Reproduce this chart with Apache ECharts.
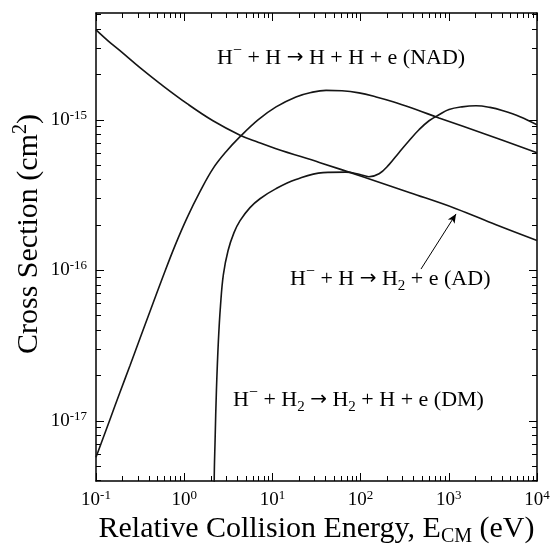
<!DOCTYPE html>
<html>
<head>
<meta charset="utf-8">
<script src="https://cdn.jsdelivr.net/npm/echarts@6/dist/echarts.min.js"></script>
<style>
  html, body { margin: 0; padding: 0; background: #fff; }
  #chart { width: 552px; height: 548px; }
</style>
</head>
<body>
<div id="chart"></div>
<script>
// cross sections (energy in eV, sigma in cm^2)
const energyNAD = [0.1, 0.144, 0.187, 0.243, 0.315, 0.409, 0.575, 0.787, 1.08, 1.51, 2.12, 2.98, 4.3, 6.87, 11.0, 18.5, 27.4, 40.6, 61.5, 95.9, 150, 233, 425, 774, 2710, 10000];
const sigmaNAD = [5.73e-18, 1.02e-17, 1.55e-17, 2.33e-17, 3.52e-17, 5.33e-17, 9.1e-17, 1.46e-16, 2.24e-16, 3.33e-16, 4.74e-16, 6.14e-16, 7.73e-16, 1.0e-15, 1.22e-15, 1.42e-15, 1.52e-15, 1.57e-15, 1.56e-15, 1.51e-15, 1.42e-15, 1.32e-15, 1.17e-15, 1.03e-15, 7.96e-16, 6.05e-16];

const energyAD = [0.1, 0.137, 0.187, 0.315, 0.532, 1.08, 2.12, 4.3, 6.87, 11.0, 34.7, 106, 363, 1208, 3430, 10000];
const sigmaAD = [3.96e-15, 3.35e-15, 2.88e-15, 2.22e-15, 1.74e-15, 1.28e-15, 9.86e-16, 7.91e-16, 7.1e-16, 6.43e-16, 5.19e-16, 4.19e-16, 3.28e-16, 2.57e-16, 2.01e-16, 1.58e-16];

const energyDM = [2.18, 2.19, 2.24, 2.32, 2.44, 2.58, 2.78, 3.14, 3.67, 4.3, 5.57, 7.23, 11.0, 18.5, 37.5, 68.2, 98.4, 124, 162, 210, 272, 354, 459, 597, 774, 1005, 1410, 2030, 2930, 4120, 6420, 10000];
const sigmaDM = [1e-18, 3.97e-18, 7.43e-18, 1.6e-17, 3.37e-17, 5.83e-17, 9.37e-17, 1.35e-16, 1.78e-16, 2.14e-16, 2.61e-16, 2.99e-16, 3.49e-16, 4.01e-16, 4.46e-16, 4.49e-16, 4.33e-16, 4.19e-16, 4.38e-16, 5.04e-16, 6.05e-16, 7.26e-16, 8.59e-16, 9.86e-16, 1.08e-15, 1.17e-15, 1.22e-15, 1.24e-15, 1.21e-15, 1.15e-15, 1.05e-15, 9.27e-16];

// arrow pointing at the AD curve: [energy, sigma]
const arrowFrom = [484, 1.02e-16];
const arrowTo = [1208, 2.37e-16];

// axis decades (log10)
const xDecades = [-1, 0, 1, 2, 3, 4];
const yDecades = [-17, -16, -15];
const xRange = [-1, 4];
const yRange = [-17.4, -14.29];

const FONT = 'Liberation Serif';

function toLog(es, ss) {
  return es.map((e, i) => [Math.log10(e), Math.log10(ss[i])]);
}

function minorTicks(from, to, range) {
  let out = [];
  for (let d = from; d <= to; d++) {
    for (let k = 2; k <= 9; k++) {
      const v = d + Math.log10(k);
      if (v > range[0] && v < range[1]) out.push(v);
    }
  }
  return out;
}

const xMinor = minorTicks(-1, 3, xRange);
const yMinor = minorTicks(-18, -15, yRange);

const frame = { show: true, onZero: false, lineStyle: { color: '#000', width: 1.5 } };
const tickStyle = { color: '#000', width: 1 };

const labelRich = {
  b: { fontFamily: FONT, fontSize: 19, lineHeight: 22, color: '#000' },
  s: { fontFamily: FONT, fontSize: 13, verticalAlign: 'top', color: '#000' },
};
const powLabel = (v) => '{b|10}{s|' + Math.round(v) + '}';

function axis(dim, pos, majorTicks, minor, withLabels) {
  const range = dim === 'x' ? xRange : yRange;
  return {
    type: 'value',
    position: pos,
    min: range[0],
    max: range[1],
    axisLine: minor ? { show: false, onZero: false } : frame,
    axisTick: {
      show: true,
      inside: true,
      length: minor ? 5 : 8,
      customValues: minor ? (dim === 'x' ? xMinor : yMinor) : majorTicks,
      lineStyle: tickStyle,
    },
    axisLabel: withLabels
      ? { show: true, customValues: majorTicks, formatter: powLabel, rich: labelRich, margin: dim === 'x' ? 8 : 9 }
      : { show: false },
    splitLine: { show: false },
  };
}

const dom = document.getElementById('chart');
let chart = echarts.init(dom, null, { renderer: 'canvas' });

const nameRich = {
  t: { fontFamily: FONT, fontSize: 30, lineHeight: 36, color: '#000' },
  u: { fontFamily: FONT, fontSize: 20, verticalAlign: 'bottom', color: '#000' },
  s: { fontFamily: FONT, fontSize: 20, verticalAlign: 'top', color: '#000' },
};

let xBottom = axis('x', 'bottom', xDecades, false, true);
xBottom.name = '{t|Relative Collision Energy, E}{u|CM}{t| (eV)}';
xBottom.nameLocation = 'middle';
xBottom.nameGap = 30;
xBottom.nameMoveOverlap = false;
xBottom.nameTextStyle = { rich: nameRich };

let yLeft = axis('y', 'left', yDecades, false, true);
yLeft.name = '{t|Cross Section (cm}{s|2}{t|)}';
yLeft.nameLocation = 'middle';
yLeft.nameRotate = 90;
yLeft.nameGap = 49;
yLeft.nameMoveOverlap = false;
yLeft.nameTextStyle = { rich: nameRich, padding: [0, 0, 0, 26] };

const curveStyle = { color: '#151515', width: 1.6 };

function curve(name, es, ss) {
  return {
    name: name,
    type: 'line',
    data: toLog(es, ss),
    showSymbol: false,
    smooth: 0.4,
    clip: true,
    lineStyle: curveStyle,
    itemStyle: { color: '#151515' },
    silent: true,
    animation: false,
  };
}

let ad = curve('AD', energyAD, sigmaAD);
ad.markLine = {
  silent: true,
  animation: false,
  symbol: ['none', 'arrow'],
  symbolSize: [6, 9],
  label: { show: false },
  lineStyle: { color: '#000', width: 1, type: 'solid' },
  data: [[
    { coord: [Math.log10(arrowFrom[0]), Math.log10(arrowFrom[1])] },
    { coord: [Math.log10(arrowTo[0]), Math.log10(arrowTo[1])] },
  ]],
};

const annRich = {
  t: { fontFamily: FONT, fontSize: 22, lineHeight: 30, fill: '#000' },
  a: { fontFamily: 'DejaVu Sans', fontSize: 20, fill: '#000' },
  s: { fontFamily: FONT, fontSize: 16, verticalAlign: 'top', fill: '#000' },
  u: { fontFamily: FONT, fontSize: 15, verticalAlign: 'bottom', fill: '#000' },
};

function note(text, left, top) {
  return {
    type: 'text',
    left: left,
    top: top,
    silent: true,
    style: { text: text, rich: annRich, fill: '#000', font: '22px ' + FONT },
  };
}

const option = {
  animation: false,
  backgroundColor: '#fff',
  grid: { left: 96, right: 15, top: 13, bottom: 67, outerBoundsMode: 'none' },
  xAxis: [
    xBottom,
    axis('x', 'bottom', xDecades, true, false),
    axis('x', 'top', xDecades, false, false),
    axis('x', 'top', xDecades, true, false),
  ],
  yAxis: [
    yLeft,
    axis('y', 'left', yDecades, true, false),
    axis('y', 'right', yDecades, false, false),
    axis('y', 'right', yDecades, true, false),
  ],
  series: [
    curve('NAD', energyNAD, sigmaNAD),
    ad,
    curve('DM', energyDM, sigmaDM),
  ],
  graphic: [
    note('{t|H}{s|−}{t| + H }{a|→}{t| H + H + e (NAD)}', 217, 43),
    note('{t|H}{s|−}{t| + H }{a|→}{t| H}{u|2}{t| + e (AD)}', 290, 264),
    note('{t|H}{s|−}{t| + H}{u|2}{t| }{a|→}{t| H}{u|2}{t| + H + e (DM)}', 233, 385),
  ],
};

chart.setOption(option);
</script>
</body>
</html>
